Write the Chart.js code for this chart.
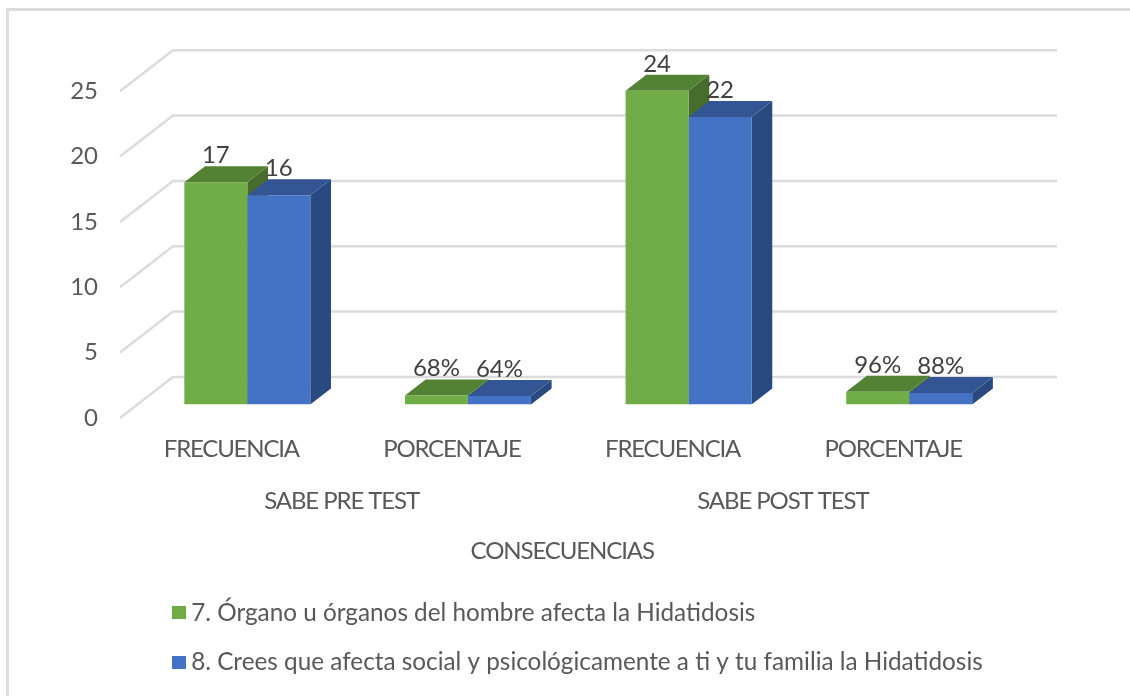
<!DOCTYPE html>
<html><head><meta charset="utf-8">
<style>
html,body{margin:0;padding:0;background:#fff;overflow:hidden}
#wrap{position:absolute;left:0;top:0;width:1130px;height:696px;filter:blur(0.45px)}
#frame{position:absolute;left:6px;top:8px;width:1124px;height:688px;box-sizing:border-box;border-left:3px solid #dcdcdc;border-top:3px solid #dcdcdc}
canvas{position:absolute;left:0;top:0}
</style>
<script src="https://cdn.jsdelivr.net/npm/chart.js@4/dist/chart.umd.js"></script>
</head><body><div id="wrap"><div id="frame"></div><canvas id="c" width="1130" height="696"></canvas></div>
<script>
const categories = ["FRECUENCIA","PORCENTAJE","FRECUENCIA","PORCENTAJE"];
const groups = ["SABE PRE TEST","SABE POST TEST"];
const axisTitle = "CONSECUENCIAS";
const series7Name = "7. Órgano u órganos del hombre afecta la Hidatidosis";
const series8Name = "8. Crees que afecta social y psicológicamente a ti y tu familia la Hidatidosis";
const series7 = [17,0.68,24,0.96];
const series8 = [16,0.64,22,0.88];
const FONT = "Lato";
const TEXT = "#595959", LABEL="#404040", GRID="#dcdcdc";
const faces = [{front:"#70ad47",top:"#548235",side:"#466d2c"},{front:"#4472c4",top:"#335593",side:"#294a80"}];
const DEPTH = {barX:20.7,barY:16,backX:36,backY:27.5,frontX:17,frontY:13.5};

function shifted(Base,id){
  return class extends Base{
    static id=id;
    static defaults=Base.defaults;
    _sh(f){const o=this.options,s=o.shift||[0,0],c=this.ctx;c.save();c.translate(s[0],s[1]);c.letterSpacing=(o.spacing||0)+'px';f();c.restore();}
    drawLabels(a){this._sh(()=>super.drawLabels(a));}
    drawTitle(a){this._sh(()=>super.drawTitle(a));}
  };
}
Chart.register(shifted(Chart.CategoryScale,'shiftCat'),shifted(Chart.LinearScale,'shiftLin'));

function swatch(color){const c=document.createElement('canvas');c.width=14;c.height=13;const x=c.getContext('2d');x.fillStyle=color;x.fillRect(0,0,14,13);return c;}
function poly(ctx,pts,color){ctx.fillStyle=color;ctx.beginPath();pts.forEach((p,i)=>i?ctx.lineTo(p[0],p[1]):ctx.moveTo(p[0],p[1]));ctx.closePath();ctx.fill();}

const box3d={id:'box3d',
  beforeDraw(chart){
    const {ctx,scales:{x,y}}=chart;
    ctx.save();ctx.strokeStyle=GRID;ctx.lineWidth=2.5;ctx.lineJoin='round';
    y.ticks.forEach(t=>{const py=y.getPixelForValue(t.value);
      ctx.beginPath();ctx.moveTo(x.left-DEPTH.frontX,py+DEPTH.frontY);
      ctx.lineTo(x.left+DEPTH.backX,py-DEPTH.backY);
      ctx.lineTo(x.right+DEPTH.backX+1.5,py-DEPTH.backY);ctx.stroke();});
    ctx.restore();
  },
  beforeDatasetsDraw(chart){
    const ctx=chart.ctx,dx=DEPTH.barX,dy=DEPTH.barY;
    chart.data.datasets.forEach((ds,i)=>{
      chart.getDatasetMeta(i).data.forEach(b=>{
        const l=b.x-b.width/2,r=b.x+b.width/2,t=b.y,bt=b.base;
        poly(ctx,[[r,t],[r+dx,t-dy],[r+dx,bt-dy],[r,bt]],faces[i].side);
        poly(ctx,[[l,t],[r,t],[r+dx,t-dy],[l+dx,t-dy]],faces[i].top);
      });
    });
  },
  afterDatasetsDraw(chart){
    const ctx=chart.ctx;ctx.save();
    ctx.font="24px "+FONT;ctx.fillStyle=LABEL;ctx.textAlign='center';ctx.textBaseline='middle';
    chart.data.datasets.forEach((ds,i)=>{
      chart.getDatasetMeta(i).data.forEach((b,j)=>{
        const v=ds.data[j];
        ctx.fillText(v<1?Math.round(v*100)+"%":String(v),b.x,b.y-27);
      });
    });
    ctx.restore();
  },
  afterLayout(chart){
    chart.legend.left=153;chart.legend.top=575.8;
  }
};
const tickFont={family:FONT,size:24};
new Chart(document.getElementById('c'),{
  type:'bar',
  data:{labels:categories,datasets:[
    {label:series7Name,data:series7,backgroundColor:faces[0].front},
    {label:series8Name,data:series8,backgroundColor:faces[1].front}
  ]},
  plugins:[box3d],
  options:{
    responsive:false,animation:false,devicePixelRatio:1,
    categoryPercentage:0.571,barPercentage:1,
    layout:{padding:{left:7,right:110.5,top:77.75,bottom:16.5}},
    plugins:{
      tooltip:{enabled:false},
      legend:{position:'bottom',align:'start',labels:{
        font:{family:FONT,size:24.3},color:TEXT,padding:25,usePointStyle:true,pointStyleWidth:1,
        generateLabels(chart){
          return Chart.defaults.plugins.legend.labels.generateLabels(chart).map((l,i)=>Object.assign(l,{pointStyle:swatch(faces[i].front)}));
        }
      }}
    },
    scales:{
      y:{type:'shiftLin',shift:[0,13.5],min:0,max:25,position:'left',
        grid:{display:false},border:{display:false},
        ticks:{stepSize:5,font:tickFont,color:TEXT,padding:31,maxRotation:0},
        afterFit(s){s.width=130;}},
      x:{type:'shiftCat',shift:[-16,0],spacing:-1.2,position:'bottom',weight:1,
        grid:{display:false},border:{display:false},
        ticks:{font:tickFont,color:TEXT,autoSkip:false,maxRotation:0,padding:22.5},
        afterFit(s){s.height=70;}},
      x2:{type:'shiftCat',shift:[-16,0],spacing:-1.1,axis:'x',labels:groups,position:'bottom',weight:2,
        grid:{display:false},border:{display:false},
        ticks:{font:tickFont,color:TEXT,autoSkip:false,maxRotation:0,padding:4.5},
        title:{display:true,text:axisTitle,font:tickFont,color:TEXT,padding:{top:18,bottom:5.5}},
        afterFit(s){s.height=96.5;}}
    }
  }
});
</script></body></html>
